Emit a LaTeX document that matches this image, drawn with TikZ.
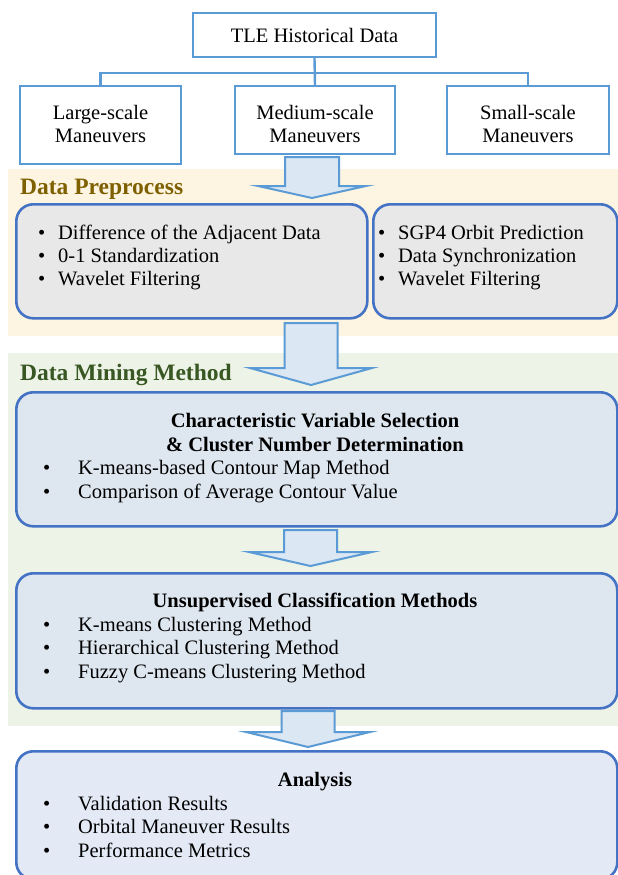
\documentclass[tikz,border=0pt]{standalone}
\usepackage{fontspec}
\setmainfont{Liberation Serif}
\definecolor{lineblue}{HTML}{5B9BD5}
\definecolor{rblue}{HTML}{4472C4}
\definecolor{grayfill}{HTML}{E8E8E8}
\definecolor{cvfill}{HTML}{DEE6EF}
\definecolor{anfill}{HTML}{E3E9F5}
\definecolor{yband}{HTML}{FDF5E1}
\definecolor{gband}{HTML}{EDF3E7}
\definecolor{arrowfill}{HTML}{DCE7F4}
\definecolor{brownlbl}{HTML}{7F6000}
\definecolor{greenlbl}{HTML}{385723}
\newcommand\txtfont{\fontsize{20.5}{23.5}\selectfont}
\newcommand\lblfont{\fontsize{23.5}{26}\selectfont\bfseries}
\newcommand\bigarrow[6]{%
  \draw[barrow] (#1-#2,#4) -- (#1+#2,#4) -- (#1+#2,#5) -- (#1+#3,#5) -- (#1,#6)
    -- (#1-#3,#5) -- (#1-#2,#5) -- cycle;}
\newcommand\pb{\makebox[20pt][l]{\textbullet}}
\newcommand\lb{\makebox[35pt][l]{\textbullet}}
\begin{document}
\begin{tikzpicture}[x=1pt,y=-1pt,
  sqbox/.style={draw=lineblue, line width=2.4pt, fill=white, inner sep=0pt, align=center, font=\txtfont},
  plaintxt/.style={inner sep=0pt, align=center, font=\txtfont},
  rbox/.style={draw=rblue, line width=2.6pt, rounded corners=17pt, inner sep=0pt, anchor=north west},
  conn/.style={draw=lineblue, line width=2.4pt},
  barrow/.style={draw=lineblue, line width=2pt, fill=arrowfill, line join=miter},
  txtnode/.style={inner sep=0pt, align=left, font=\txtfont, anchor=base west},
  ttlnode/.style={inner sep=0pt, align=center, font=\txtfont\bfseries, anchor=base},
  lbl/.style={inner sep=0pt, anchor=base west, font=\lblfont},
]
\useasboundingbox (0,0) rectangle (618,875);
% bands
\fill[yband] (8,169) rectangle (618,336);
\fill[gband] (8,353) rectangle (618,726);
% top boxes
\node[sqbox, minimum width=243pt, minimum height=44pt] (tle) at (314.5,35) {TLE Historical Data};
\node[sqbox, minimum width=161pt, minimum height=78pt] (large) at (100.5,125) {};
\node[sqbox, minimum width=160pt, minimum height=68pt] (medium) at (315,120) {};
\node[sqbox, minimum width=162pt, minimum height=68pt] (small) at (528,120) {};
\node[plaintxt] (tlarge) at (100.5,124) {Large-scale\\Maneuvers};
\node[plaintxt] (tmedium) at (315,124) {Medium-scale\\Maneuvers};
\node[plaintxt] (tsmall) at (528,124) {Small-scale\\Maneuvers};
\coordinate (bus) at (315,73);
\draw[conn] (tle.south) -- (medium.north);
\draw[conn] (large.north) |- (bus) -| (small.north);
% labels
\node[lbl, text=brownlbl] (lpp) at (20,194) {Data Preprocess};
\node[lbl, text=greenlbl] (ldm) at (20,380) {Data Mining Method};
% rounded boxes
\node[rbox, fill=grayfill, minimum width=351pt, minimum height=114pt] (ppl) at (15,203) {};
\node[rbox, fill=grayfill, minimum width=244pt, minimum height=114pt] (ppr) at (372,203) {};
\node[rbox, fill=cvfill, minimum width=601pt, minimum height=134pt] (cv) at (15,391) {};
\node[rbox, fill=cvfill, minimum width=601pt, minimum height=135pt] (uc) at (15,572) {};
\node[rbox, fill=anfill, minimum width=601pt, minimum height=128pt] (an) at (15,750) {};
% block arrows
\bigarrow{312}{27}{54}{157}{186}{198}
\bigarrow{311}{26.5}{61}{323}{368}{385}
\bigarrow{310.5}{26.5}{61.5}{530}{552}{566}
\bigarrow{308}{26.5}{62}{711}{732}{747}
% texts (base anchor = baseline of last line)
\node[txtnode, font=\fontsize{20.5}{23}\selectfont] (tppl) at (38,285) {\pb Difference of the Adjacent Data\\\pb 0-1 Standardization\\\pb Wavelet Filtering};
\node[txtnode, font=\fontsize{20.5}{23}\selectfont] (tppr) at (378,285) {\pb SGP4 Orbit Prediction\\\pb Data Synchronization\\\pb Wavelet Filtering};
\node[ttlnode, font=\fontsize{20.5}{24}\selectfont\bfseries] (tcv) at (315,451) {Characteristic Variable Selection\\\& Cluster Number Determination};
\node[txtnode, font=\fontsize{20.5}{24}\selectfont] (bcv) at (43,498) {\lb K-means-based Contour Map Method\\\lb Comparison of Average Contour Value};
\node[ttlnode] (tuc) at (315,607) {Unsupervised Classification Methods};
\node[txtnode] (buc) at (43,678) {\lb K-means Clustering Method\\\lb Hierarchical Clustering Method\\\lb Fuzzy C-means Clustering Method};
\node[ttlnode] (tan) at (315,786) {Analysis};
\node[txtnode] (ban) at (43,857) {\lb Validation Results\\\lb Orbital Maneuver Results\\\lb Performance Metrics};
\end{tikzpicture}
\end{document}
